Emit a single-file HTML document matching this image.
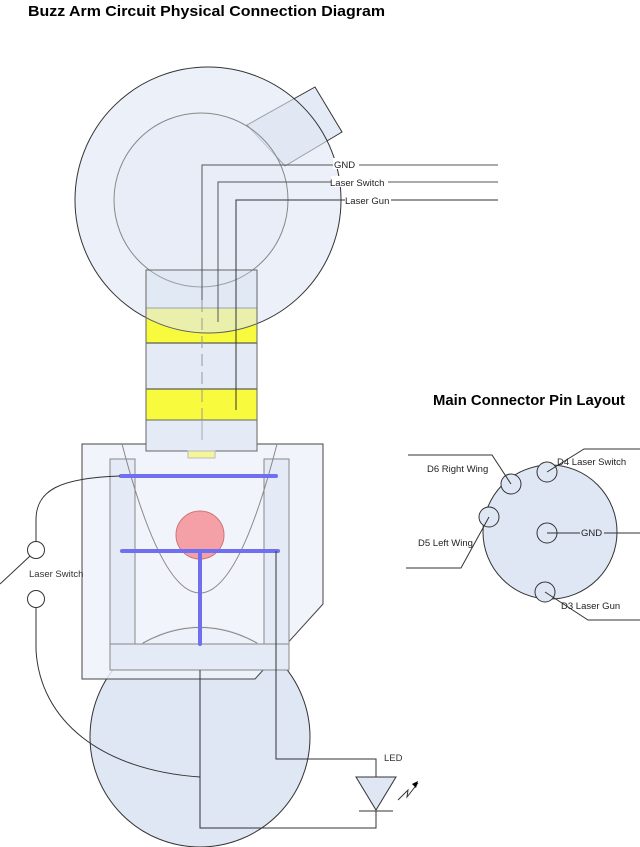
<!DOCTYPE html>
<html><head><meta charset="utf-8"><style>
html,body{margin:0;padding:0;background:#fff;}
svg{display:block;font-family:"Liberation Sans",Arial,sans-serif;}
</style></head><body>
<svg width="640" height="847" viewBox="0 0 640 847" xmlns="http://www.w3.org/2000/svg">
<text x="28" y="16" font-size="15" font-weight="bold" fill="#000" textLength="357" lengthAdjust="spacingAndGlyphs">Buzz Arm Circuit Physical Connection Diagram</text>
<text x="433" y="405" font-size="14.5" font-weight="bold" fill="#000" textLength="192" lengthAdjust="spacingAndGlyphs">Main Connector Pin Layout</text>

<!-- neck rect -->
<rect x="146" y="270" width="111" height="181" fill="#e4eaf6" stroke="#000" stroke-width="1"/>
<rect x="146" y="308" width="111" height="35" fill="#ffff00" stroke="#000"/>
<rect x="146" y="389" width="111" height="34" fill="#ffff00" stroke="#000"/>
<polygon points="247,125 315,87 342,132 285,166" fill="#e4eaf6" stroke="#333"/>
<!-- big top circle (semi transparent) -->
<circle cx="208" cy="200" r="133" fill="#dfe6f4" fill-opacity="0.6" stroke="#333" stroke-width="1"/>
<circle cx="201" cy="200" r="87" fill="#e4eaf6" fill-opacity="0.5" stroke="#888"/>
<rect x="146" y="270" width="111" height="181" fill="#e4eaf6" fill-opacity="0.25" stroke="#666"/>
<!-- wires top -->
<g fill="none" stroke="#555" stroke-width="1">
<polyline points="498,165 202,165 202,300"/>
<line x1="202" y1="300" x2="202" y2="450" stroke-dasharray="12,6" stroke="#999"/>
<polyline points="498,182 218,182 218,322"/>
<polyline points="498,200 236,200 236,410" stroke="#333"/>
</g>
<rect x="333" y="158" width="26" height="11" fill="#fff"/>
<text x="334" y="168" font-size="9.5" fill="#222">GND</text>
<rect x="331" y="176" width="57" height="11" fill="#fff"/>
<text x="330" y="186" font-size="9.5" fill="#222">Laser Switch</text>
<rect x="345" y="194" width="46" height="11" fill="#fff"/>
<text x="345" y="204" font-size="9.5" fill="#222">Laser Gun</text>

<!-- bottom circle -->
<circle cx="200" cy="737" r="110" fill="#dfe6f4" stroke="#333"/>
<!-- outer box -->
<polygon points="82,444 323,444 323,604 255,679 82,679" fill="#eef2fa" fill-opacity="0.85" stroke="#444"/>
<path d="M143,643 Q200,612 257,643" fill="none" stroke="#888"/>
<rect x="110" y="459" width="25" height="185" fill="#e4eaf6" stroke="#888"/>
<rect x="264" y="459" width="25" height="185" fill="#e4eaf6" stroke="#888"/>
<rect x="110" y="644" width="179" height="26" fill="#e4eaf6" stroke="#888"/>
<path d="M122,444 Q200,742 277,444" fill="none" stroke="#888"/>
<rect x="146" y="420" width="111" height="31" fill="#e4eaf6" stroke="#666"/>
<line x1="202" y1="420" x2="202" y2="440" stroke="#aaa"/>
<rect x="188" y="451" width="27" height="7" fill="#f5f59a" stroke="#bbb"/>
<circle cx="200" cy="535" r="24" fill="#f4a0a6" stroke="#c77"/>
<g stroke="#6f6ff0" stroke-width="4" stroke-linecap="round">
<line x1="121" y1="476" x2="276" y2="476"/>
<line x1="122" y1="551" x2="278" y2="551"/>
<line x1="200" y1="551" x2="200" y2="644"/>
</g>
<!-- wiring bottom -->
<g fill="none" stroke="#333" stroke-width="1">
<polyline points="276,551 276,759 376,759 376,777"/>
<polyline points="376,811 376,828 200,828 200,670"/>
<path d="M120,476 C60,478 36,490 36,520 L36,542"/>
<path d="M36,607 L36,650 C40,720 100,770 200,777"/>
<line x1="0" y1="584" x2="30" y2="556"/>
<line x1="359" y1="811" x2="393" y2="811"/>
<polyline points="398,800 408,790 407,797 418,783"/>
</g>
<polygon points="418,781 412,784 416,788" fill="#000"/>
<polygon points="356,777 396,777 376,810" fill="#dfe6f4" stroke="#333"/>
<circle cx="36" cy="550" r="8.5" fill="#fff" stroke="#333"/>
<circle cx="36" cy="599" r="8.5" fill="#fff" stroke="#333"/>
<text x="29" y="577" font-size="9.5" fill="#333">Laser Switch</text>
<text x="384" y="761" font-size="9.5" fill="#333">LED</text>

<!-- connector -->
<circle cx="550" cy="532" r="67" fill="#dfe6f4" stroke="#333"/>
<g fill="#dfe6f4" stroke="#333">
<circle cx="547" cy="472" r="10"/>
<circle cx="511" cy="484" r="10"/>
<circle cx="489" cy="517" r="10"/>
<circle cx="547" cy="533" r="10"/>
<circle cx="545" cy="592" r="10"/>
</g>
<g fill="none" stroke="#333">
<polyline points="511,484 492,455 408,455"/>
<polyline points="547,472 584,449 640,449"/>
<polyline points="489,517 461,568 406,568"/>
<polyline points="547,533 640,533"/>
<polyline points="545,592 588,620 640,620"/>
</g>
<text x="427" y="472" font-size="9.5" fill="#222">D6 Right Wing</text>
<text x="557" y="465" font-size="9.5" fill="#222">D4 Laser Switch</text>
<text x="418" y="546" font-size="9.5" fill="#222">D5 Left Wing</text>
<rect x="580" y="528" width="24" height="10" fill="#dfe6f4"/>
<text x="581" y="536" font-size="9.5" fill="#222">GND</text>
<text x="561" y="609" font-size="9.5" fill="#222">D3 Laser Gun</text>
</svg>
</body></html>
